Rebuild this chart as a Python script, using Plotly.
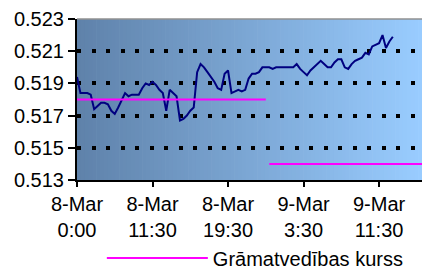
import plotly.graph_objects as go

# ---- data ----
tick_labels = ["8-Mar<br>0:00", "8-Mar<br>11:30", "8-Mar<br>19:30", "9-Mar<br>3:30", "9-Mar<br>11:30"]
tick_step = 22  # categories between labelled ticks

market_rate = [
    0.5194, 0.5184, 0.5184, 0.5184, 0.5183, 0.5174, 0.5176, 0.5178, 0.5178, 0.5177,
    0.5173, 0.5171, 0.5175, 0.5180, 0.5184, 0.5182, 0.5183, 0.5183, 0.5183, 0.5187,
    0.5190, 0.5189, 0.5191, 0.5189, 0.5186, 0.5184, 0.5173, 0.5186, 0.5184, 0.5182,
    0.5167, 0.5168, 0.5170, 0.5173, 0.5175, 0.5197, 0.5202, 0.5200, 0.5197, 0.5194,
    0.5191, 0.5187, 0.5186, 0.5196, 0.5198, 0.5184, 0.5185, 0.5186, 0.5185, 0.5186,
    0.5193, 0.5196, 0.5196, 0.5197, 0.5200, 0.5200, 0.5200, 0.5199, 0.5200, 0.5200,
    0.5200, 0.5200, 0.5200, 0.5200, 0.5202, 0.5199, 0.5197, 0.5195, 0.5198, 0.5200,
    0.5202, 0.5204, 0.5202, 0.5200, 0.5200, 0.5203, 0.5205, 0.5205, 0.5200, 0.5199,
    0.5202, 0.5204, 0.5205, 0.5206, 0.5209, 0.5208, 0.5213, 0.5214, 0.5215, 0.5220,
    0.5212, 0.5216, 0.5219,
]
rate_day1 = 0.518   # Grāmatvedības kurss, 8-Mar
rate_day2 = 0.514   # Grāmatvedības kurss, 9-Mar
day1_count = 56
total_count = 102

legend_name = "Grāmatvedības kurss"
y_ticks = [0.513, 0.515, 0.517, 0.519, 0.521, 0.523]

# ---- build ----
idx = list(range(total_count))
day1_x = idx[:day1_count]
day2_x = idx[day1_count:]

fig = go.Figure()

# gradient background as thin slices
n = 90
c0 = (95, 130, 170)
c1 = (153, 204, 255)
shapes = []
for k in range(n):
    t = k / (n - 1)
    col = "rgb(%d,%d,%d)" % tuple(round(c0[j] + (c1[j] - c0[j]) * t) for j in range(3))
    shapes.append(dict(type="rect", xref="x domain", yref="y domain",
                       x0=k / n, x1=(k + 1) / n + 0.002, y0=0, y1=1,
                       fillcolor=col, line=dict(width=0), layer="below"))
# top border of plot area
shapes.append(dict(type="line", xref="x domain", yref="y domain", x0=0, x1=1, y0=1, y1=1,
                   line=dict(color="#909090", width=1.5), layer="above"))

fig.add_trace(go.Scatter(x=list(range(len(market_rate))), y=market_rate, mode="lines",
                         line=dict(color="#000080", width=2), showlegend=False,
                         name="Tirgus kurss"))
fig.add_trace(go.Scatter(x=day1_x, y=[rate_day1] * len(day1_x), mode="lines",
                         line=dict(color="#ff00ff", width=2), name=legend_name,
                         legendgroup="r", showlegend=True))
fig.add_trace(go.Scatter(x=day2_x, y=[rate_day2] * len(day2_x), mode="lines",
                         line=dict(color="#ff00ff", width=2), name=legend_name,
                         legendgroup="r", showlegend=False))

fig.update_layout(
    width=422, height=271,
    margin=dict(l=77, r=0, t=19, b=91, autoexpand=False),
    paper_bgcolor="white",
    plot_bgcolor="rgba(0,0,0,0)",
    font=dict(family="Arial, Liberation Sans, sans-serif", size=20, color="black"),
    shapes=shapes,
    showlegend=True,
    legend=dict(orientation="h", x=0.072, y=1 - 258 / 271, yref="container",
                xanchor="left", yanchor="middle",
                font=dict(size=20), itemwidth=101, bgcolor="rgba(0,0,0,0)"),
)
fig.update_xaxes(
    range=[0, 100.5], automargin=False,
    tickvals=[i * tick_step for i in range(len(tick_labels))],
    ticktext=tick_labels,
    showgrid=False, zeroline=False,
    showline=True, linecolor="black", linewidth=2,
    ticks="outside", ticklen=5, tickwidth=1.5, tickcolor="black",
)
fig.update_yaxes(
    range=[0.513, 0.523], automargin=False,
    tickvals=y_ticks, tickformat=".3f",
    showgrid=True, gridcolor="black", gridwidth=3.5, griddash="4px,10.5px",
    zeroline=False,
    showline=True, linecolor="black", linewidth=2,
    ticks="outside", ticklen=7, tickwidth=1.5, tickcolor="black",
)

fig.write_html("out.html", config={"displayModeBar": False},
               post_script="document.body.style.margin='0';document.body.style.overflow='hidden';")
